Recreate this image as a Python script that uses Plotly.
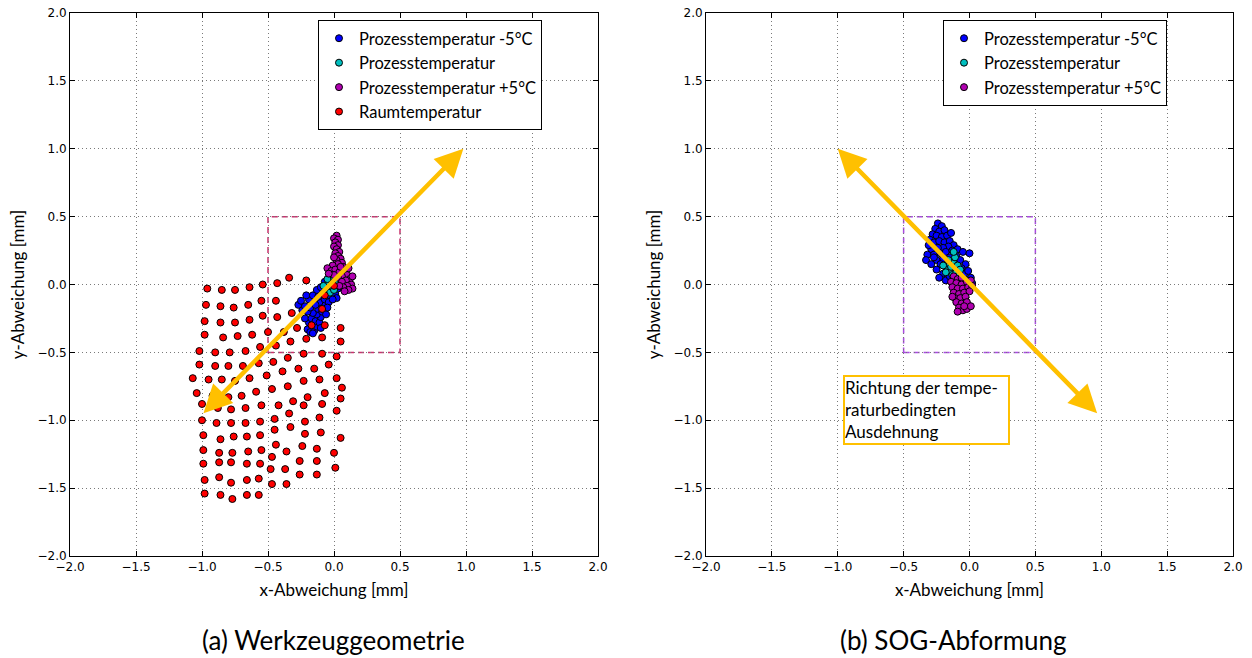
import plotly.graph_objects as go

# ---------------- data (mm) ----------------
# Left panel: Werkzeuggeometrie
raum_x = [-0.96,-0.85,-0.75,-0.64,-0.54,-0.43,-0.34,-0.21,0.00,-0.07,
          -0.97,-0.86,-0.76,-0.65,-0.55,-0.44,-0.32,-0.09,-0.17,
          -0.98,-0.86,-0.75,-0.64,-0.54,-0.43,-0.28,-0.07,0.05,
          -0.98,-0.84,-0.73,-0.62,-0.50,-0.38,-0.21,-0.09,0.05,-0.33,
          -1.02,-0.90,-0.79,-0.67,-0.56,-0.44,-0.35,-0.23,-0.09,0.02,
          -1.02,-0.90,-0.80,-0.69,-0.57,-0.46,-0.39,-0.27,-0.15,-0.04,
          -1.07,-0.95,-0.85,-0.75,-0.64,-0.51,-0.23,-0.11,0.02,-0.47,-0.35,
          -1.04,-0.92,-0.80,-0.70,-0.59,-0.31,-0.20,-0.07,0.06,-0.42,
          -1.00,-0.88,-0.78,-0.67,-0.55,-0.23,-0.09,0.05,-0.34,-0.45,
          -1.00,-0.89,-0.78,-0.67,-0.56,-0.22,-0.11,0.02,-0.33,-0.45,
          -0.99,-0.86,-0.76,-0.66,-0.56,-0.22,-0.10,0.05,-0.44,-0.36,
          -0.99,-0.87,-0.77,-0.65,-0.55,-0.24,-0.13,0.00,-0.47,
          -0.99,-0.87,-0.78,-0.66,-0.56,-0.26,-0.13,0.01,-0.48,-0.37,
          -0.98,-0.87,-0.78,-0.66,-0.57,-0.26,-0.13,-0.47,-0.36,
          -0.98,-0.86,-0.77,-0.66,-0.57]
raum_y = [-0.03,-0.04,-0.04,-0.02,0.00,0.01,0.05,0.03,-0.01,-0.08,
          -0.15,-0.16,-0.17,-0.15,-0.12,-0.12,-0.21,-0.18,-0.30,
          -0.27,-0.28,-0.28,-0.26,-0.23,-0.24,-0.32,-0.30,-0.32,
          -0.37,-0.39,-0.38,-0.37,-0.35,-0.35,-0.40,-0.39,-0.42,-0.42,
          -0.49,-0.50,-0.50,-0.49,-0.46,-0.45,-0.54,-0.51,-0.51,-0.53,
          -0.59,-0.60,-0.60,-0.60,-0.58,-0.57,-0.64,-0.62,-0.62,-0.59,
          -0.69,-0.70,-0.70,-0.71,-0.69,-0.67,-0.71,-0.70,-0.69,-0.77,-0.75,
          -0.80,-0.82,-0.83,-0.82,-0.79,-0.86,-0.83,-0.80,-0.76,-0.89,
          -0.88,-0.91,-0.92,-0.91,-0.89,-0.89,-0.88,-0.84,-0.95,-0.99,
          -1.00,-1.02,-1.02,-1.02,-1.01,-1.01,-0.98,-0.93,-1.05,-1.07,
          -1.11,-1.14,-1.12,-1.12,-1.11,-1.10,-1.09,-1.13,-1.18,-1.23,
          -1.22,-1.24,-1.24,-1.23,-1.22,-1.19,-1.21,-1.24,-1.27,
          -1.32,-1.31,-1.31,-1.32,-1.32,-1.30,-1.30,-1.35,-1.36,-1.36,
          -1.44,-1.42,-1.46,-1.44,-1.43,-1.40,-1.40,-1.47,-1.47,
          -1.54,-1.55,-1.58,-1.55,-1.55]

wz_minus_x = [-0.20,-0.18,-0.15,-0.16,-0.13,-0.19,-0.22,-0.17,-0.14,-0.11,-0.10,-0.13,-0.16,-0.20,
              -0.24,-0.27,-0.22,-0.18,-0.12,-0.09,-0.06,-0.08,-0.11,-0.15,-0.19,-0.21,-0.16,-0.12,
              -0.07,-0.04,-0.03,-0.09,-0.13,-0.10,-0.06,-0.02,0.01,0.03,-0.04,0.00,0.04,0.06,
              -0.07,-0.14,-0.10,-0.16,-0.25,-0.05,0.02,-0.01]
wz_minus_y = [-0.33,-0.35,-0.34,-0.30,-0.31,-0.28,-0.25,-0.25,-0.27,-0.28,-0.24,-0.22,-0.21,-0.20,
              -0.19,-0.15,-0.16,-0.17,-0.18,-0.20,-0.22,-0.15,-0.13,-0.12,-0.11,-0.08,-0.08,-0.09,
              -0.11,-0.13,-0.08,-0.06,-0.04,-0.02,-0.04,-0.05,-0.07,-0.03,0.00,0.01,0.02,-0.01,
              0.02,-0.15,-0.32,-0.36,-0.12,-0.17,-0.10,-0.11]
wz_proc_x = [-0.06,-0.04,-0.02,0.00,0.02,-0.01,0.03,0.01,-0.03,0.00,0.04,-0.05,0.02,-0.08,0.01,0.03]
wz_proc_y = [-0.03,0.01,0.03,0.05,0.02,-0.02,-0.01,0.00,-0.06,-0.04,0.04,0.04,0.06,-0.01,0.08,0.03]
wz_plus_x = [0.02,0.00,0.03,0.01,0.03,0.00,0.02,0.04,0.01,0.03,0.05,0.02,0.00,0.06,0.03,0.07,-0.01,
             -0.05,-0.02,0.01,0.04,0.08,0.10,0.06,0.03,0.00,-0.04,0.12,0.09,0.06,0.13,0.10,0.07,
             0.14,0.11,0.08,0.04,0.14,0.11,0.05]
wz_plus_y = [0.36,0.34,0.33,0.31,0.29,0.28,0.26,0.24,0.23,0.21,0.19,0.18,0.20,0.16,0.15,0.13,0.14,
             0.12,0.10,0.11,0.09,0.10,0.07,0.06,0.05,0.07,0.08,0.04,0.03,0.02,0.00,-0.01,-0.02,
             -0.03,-0.04,-0.05,-0.01,0.06,0.12,0.13]

# Right panel: SOG-Abformung
sog_minus_x = [-0.24,-0.21,-0.26,-0.23,-0.19,-0.28,-0.25,-0.21,-0.17,-0.30,-0.27,-0.23,-0.19,-0.15,
               -0.12,-0.16,-0.20,-0.24,-0.29,-0.32,-0.27,-0.22,-0.18,-0.13,-0.09,-0.05,-0.10,-0.15,
               -0.20,-0.25,-0.33,-0.29,-0.22,-0.17,-0.12,-0.07,-0.03,0.00,-0.06,-0.10,-0.25,-0.20,
               -0.23,-0.18,-0.04,-0.01,0.01,-0.02,0.02,-0.01,0.00,-0.08,-0.15,-0.27,-0.14,-0.31]
sog_minus_y = [0.45,0.43,0.41,0.39,0.40,0.37,0.36,0.35,0.36,0.33,0.31,0.32,0.31,0.32,
               0.29,0.28,0.27,0.27,0.26,0.22,0.22,0.23,0.24,0.25,0.26,0.24,0.21,0.20,
               0.19,0.18,0.18,0.15,0.15,0.14,0.16,0.18,0.15,0.23,0.12,0.10,0.11,0.08,
               0.05,0.03,0.08,0.10,0.05,0.03,0.01,-0.01,-0.04,0.05,0.06,0.20,0.38,0.29]
sog_proc_x = [-0.17,-0.14,-0.11,-0.15,-0.12,-0.09,-0.18,-0.13,-0.10,-0.07,-0.16,-0.11,-0.20,-0.08,-0.14,-0.12]
sog_proc_y = [0.12,0.10,0.12,0.15,0.16,0.14,0.09,0.07,0.09,0.11,0.18,0.20,0.14,0.07,0.13,0.24]
sog_plus_x = [-0.12,-0.09,-0.06,-0.14,-0.10,-0.06,-0.02,0.01,-0.13,-0.09,-0.05,-0.01,0.02,-0.12,-0.08,
              -0.04,0.00,-0.11,-0.07,-0.03,-0.10,-0.06,-0.02,-0.08,-0.05,-0.02,-0.09,0.01,-0.13,-0.04]
sog_plus_y = [0.06,0.04,0.05,0.02,0.01,0.00,0.02,0.03,-0.02,-0.03,-0.03,-0.02,-0.01,-0.06,-0.07,
              -0.06,-0.05,-0.10,-0.10,-0.09,-0.13,-0.14,-0.13,-0.17,-0.19,-0.18,-0.20,-0.16,-0.09,-0.16]

series_names = ["Prozesstemperatur -5°C", "Prozesstemperatur", "Prozesstemperatur +5°C", "Raumtemperatur"]
series_colors = ["#0000ff", "#00bfbf", "#b000b0", "#ff0000"]

# arrows (tail -> head) and tolerance windows
arrow_left = (-1.0, -0.96, 0.98, 1.0)
arrow_right = (0.98, -0.96, -1.0, 1.0)
window = (-0.5, 0.5, -0.5, 0.5)
ticks = [-2.0, -1.5, -1.0, -0.5, 0.0, 0.5, 1.0, 1.5, 2.0]

TEXT_FONT = "Lato"
TICK_FONT = "DejaVu Sans"

fig = go.Figure()

def add_series(xs, ys, name, color, xa, ya, legend, show=True):
    fig.add_trace(go.Scatter(
        x=xs, y=ys, mode="markers", name=name, xaxis=xa, yaxis=ya, legend=legend,
        showlegend=show,
        marker=dict(color=color, size=7, line=dict(color="black", width=1)),
    ))

add_series(wz_minus_x, wz_minus_y, series_names[0], series_colors[0], "x", "y", "legend")
add_series(wz_proc_x, wz_proc_y, series_names[1], series_colors[1], "x", "y", "legend")
add_series(wz_plus_x, wz_plus_y, series_names[2], series_colors[2], "x", "y", "legend")
add_series(raum_x, raum_y, series_names[3], series_colors[3], "x", "y", "legend")

add_series(sog_minus_x, sog_minus_y, series_names[0], series_colors[0], "x2", "y2", "legend2")
add_series(sog_proc_x, sog_proc_y, series_names[1], series_colors[1], "x2", "y2", "legend2")
add_series(sog_plus_x, sog_plus_y, series_names[2], series_colors[2], "x2", "y2", "legend2")

axis_common = dict(
    range=[-2, 2], tickvals=ticks, tickformat=".1f", automargin=False,
    showgrid=True, gridcolor="#7a7a7a", gridwidth=1, griddash="1px,3px",
    zeroline=False, showline=True, linecolor="black", linewidth=1, mirror="ticks",
    ticks="inside", ticklen=5, tickcolor="black",
    tickfont=dict(family=TICK_FONT, size=12, color="black"),
)

TITLE_FONT = dict(family=TEXT_FONT, size=17, color="black")
LEGEND_FONT = dict(family=TEXT_FONT, size=16.5, color="black")

fig.update_layout(
    width=1252, height=658,
    margin=dict(l=0, r=0, t=0, b=0),
    paper_bgcolor="white", plot_bgcolor="white",
    xaxis=dict(domain=[70/1252, 598/1252], anchor="y",
               title=dict(text="x-Abweichung [mm]", standoff=10, font=TITLE_FONT), **axis_common),
    yaxis=dict(domain=[1-556/658, 1-13/658], anchor="x",
               title=dict(text="y-Abweichung [mm]", standoff=8, font=TITLE_FONT), **axis_common),
    xaxis2=dict(domain=[706/1252, 1233/1252], anchor="y2",
                title=dict(text="x-Abweichung [mm]", standoff=10, font=TITLE_FONT), **axis_common),
    yaxis2=dict(domain=[1-556/658, 1-13/658], anchor="x2",
                title=dict(text="y-Abweichung [mm]", standoff=8, font=TITLE_FONT), **axis_common),
    legend=dict(x=318/1252, y=1-20/658, xanchor="left", yanchor="top",
                bgcolor="white", bordercolor="black", borderwidth=1,
                font=LEGEND_FONT, tracegroupgap=0, entrywidth=230),
    legend2=dict(x=943/1252, y=1-20/658, xanchor="left", yanchor="top",
                 bgcolor="white", bordercolor="black", borderwidth=1,
                 font=LEGEND_FONT, tracegroupgap=0, entrywidth=240),
    showlegend=True,
)

# dashed tolerance windows
fig.add_shape(type="rect", xref="x", yref="y", x0=window[0], x1=window[1], y0=window[2], y1=window[3],
              line=dict(color="#c8336e", width=1.5, dash="6px,4px"), layer="below")
fig.add_shape(type="rect", xref="x2", yref="y2", x0=window[0], x1=window[1], y0=window[2], y1=window[3],
              line=dict(color="#a94be0", width=1.5, dash="6px,4px"), layer="below")

# double-headed arrows
for (x0, y0, x1, y1), xr, yr in [(arrow_left, "x", "y"), (arrow_right, "x2", "y2")]:
    fig.add_annotation(x=x1, y=y1, ax=x0, ay=y0, xref=xr, yref=yr, axref=xr, ayref=yr,
                       text="", showarrow=True, arrowhead=2, startarrowhead=2,
                       arrowside="end+start", arrowwidth=4.5, arrowsize=1.25,
                       startarrowsize=1.25, arrowcolor="#ffc000")

# text box
fig.add_annotation(x=-0.96, y=-0.663, xref="x2", yref="y2", xanchor="left", yanchor="top",
                   text="Richtung der tempe-<br>raturbedingten<br>Ausdehnung",
                   showarrow=False, align="left", valign="top",
                   width=163, height=66,
                   bgcolor="white", bordercolor="#ffc000", borderwidth=2, borderpad=0,
                   font=dict(family=TEXT_FONT, size=17, color="black"))

# subtitles
fig.add_annotation(x=333/1252, y=1-640/658, xref="paper", yref="paper", showarrow=False,
                   xanchor="center", yanchor="middle",
                   text="(a) Werkzeuggeometrie", font=dict(family=TEXT_FONT, size=26, color="black"))
fig.add_annotation(x=953/1252, y=1-640/658, xref="paper", yref="paper", showarrow=False,
                   xanchor="center", yanchor="middle",
                   text="(b) SOG-Abformung", font=dict(family=TEXT_FONT, size=26, color="black"))

fig.write_html("out.html")
